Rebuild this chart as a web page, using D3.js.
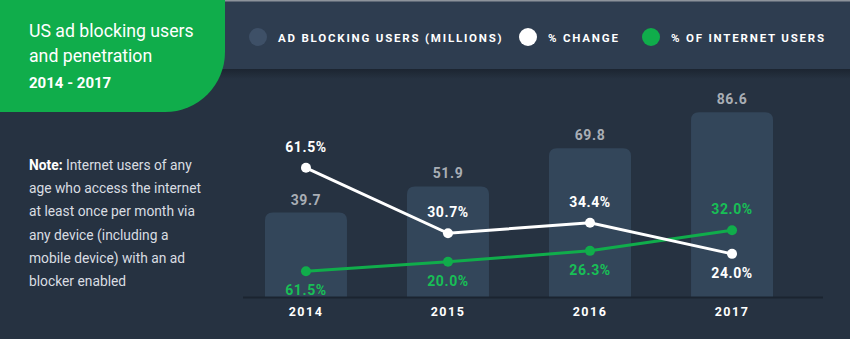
<!DOCTYPE html>
<html>
<head>
<meta charset="utf-8">
<script src="https://cdn.jsdelivr.net/npm/d3@7"></script>
<style>
  html, body { margin: 0; padding: 0; background: #263241; }
  svg { display: block; font-family: Roboto, "Noto Sans", sans-serif; }
</style>
</head>
<body>
<svg id="chart" width="850" height="339"></svg>
<script>
// ---- data ----
const years = ["2014", "2015", "2016", "2017"];
const adBlockUsers = [39.7, 51.9, 69.8, 86.6];           // millions (bars)
const adBlockLabels = ["39.7", "51.9", "69.8", "86.6"];
const pctChange = [60.6, 30.0, 34.9, 20.4];                // plotted heights
const pctChangeLabels = ["61.5%", "30.7%", "34.4%", "24.0%"];
const pctInternet = [12.3, 16.7, 21.8, 31.4];              // plotted heights
const pctInternetLabels = ["61.5%", "20.0%", "26.3%", "32.0%"];
const legendItems = ["AD BLOCKING USERS (MILLIONS)", "% CHANGE", "% OF INTERNET USERS"];
const noteLines = [
  ["Note:", " Internet users of any"],
  ["", "age who access the internet"],
  ["", "at least once per month via"],
  ["", "any device (including a"],
  ["", "mobile device) with an ad"],
  ["", "blocker enabled"]
];

const W = 850, H = 339;
const C = {
  bg: "#263241", header: "#2e3d50", green: "#10ad4b", bar: "#33465a",
  axis: "#1b2430", barLabel: "#a9aeb5", white: "#ffffff", greenText: "#18bf56",
  legendBar: "#3e5067"
};

const svg = d3.select("#chart");
const defs = svg.append("defs");
const grad = defs.append("linearGradient").attr("id", "shadow").attr("x1", 0).attr("y1", 0).attr("x2", 0).attr("y2", 1);
grad.append("stop").attr("offset", "0%").attr("stop-color", "#1c2531");
grad.append("stop").attr("offset", "100%").attr("stop-color", C.bg);

svg.append("rect").attr("width", W).attr("height", H).attr("fill", C.bg);

// header band
svg.append("rect").attr("x", 0).attr("y", 0).attr("width", W).attr("height", 69).attr("fill", C.header);
svg.append("rect").attr("x", 0).attr("y", 69).attr("width", W).attr("height", 10).attr("fill", "url(#shadow)");
svg.append("rect").attr("x", 0).attr("y", 0).attr("width", W).attr("height", 1.5).attr("fill", "#8d939b");

// green title box with rounded bottom-right corner
const r = 60, bw = 225, bh = 112;
svg.append("path")
  .attr("d", `M0,0 H${bw} V${bh - r} A${r},${r} 0 0 1 ${bw - r},${bh} H0 Z`)
  .attr("fill", C.green);

svg.append("text").attr("x", 29).attr("y", 37).attr("fill", "#fff").attr("font-size", 17.7).text("US ad blocking users");
svg.append("text").attr("x", 29).attr("y", 62).attr("fill", "#fff").attr("font-size", 17.7).text("and penetration");
svg.append("text").attr("x", 29).attr("y", 88).attr("fill", "#fff").attr("font-size", 15).attr("font-weight", 700).text("2014 - 2017");

// legend
const legendColors = [C.legendBar, C.white, C.green];
const legendX = [258, 528, 651];
const lg = svg.append("g");
legendItems.forEach((t, i) => {
  lg.append("circle").attr("cx", legendX[i]).attr("cy", 37).attr("r", 9).attr("fill", legendColors[i]);
  lg.append("text").attr("x", legendX[i] + 20).attr("y", 41.5)
    .attr("fill", "#fff").attr("font-size", 11.5).attr("font-weight", 700)
    .attr("letter-spacing", 1.8).text(t);
});

// note
const note = svg.append("g");
noteLines.forEach((ln, i) => {
  const t = note.append("text").attr("x", 29).attr("y", 170 + i * 23.2).attr("font-size", 13.8).attr("fill", "#d9dde2");
  if (ln[0]) t.append("tspan").attr("font-weight", 700).attr("fill", "#fff").text(ln[0]);
  t.append("tspan").text(ln[1]);
});

// scales
const x = d3.scaleBand().domain(years).range([235, 803]).paddingInner(0.4225).paddingOuter(0.211);
const y = d3.scaleLinear().domain([0, 100]).range([297.5, 83.5]);
const cx = d => x(d) + x.bandwidth() / 2;

// bars with rounded top corners
const rr = 8;
function barPath(i) {
  const x0 = x(years[i]), w = x.bandwidth(), y0 = y(adBlockUsers[i]), yb = y(0);
  return `M${x0},${yb} V${y0 + rr} Q${x0},${y0} ${x0 + rr},${y0} H${x0 + w - rr} Q${x0 + w},${y0} ${x0 + w},${y0 + rr} V${yb} Z`;
}
svg.append("g").selectAll("path").data(years).join("path")
  .attr("d", (d, i) => barPath(i)).attr("fill", C.bar);

// axis baseline
svg.append("line").attr("x1", 243).attr("x2", 823).attr("y1", y(0)).attr("y2", y(0))
  .attr("stroke", C.axis).attr("stroke-width", 2);

// x axis labels
const xAxis = d3.axisBottom(x).tickSize(0).tickPadding(0);
const ax = svg.append("g").attr("transform", `translate(0,${y(0) + 7})`).call(xAxis);
ax.select(".domain").remove();
ax.selectAll("text").attr("fill", "#fff").attr("font-size", 12.5).attr("font-weight", 700)
  .attr("letter-spacing", 1.5).attr("font-family", "Roboto, sans-serif").attr("dy", "0.95em");

// bar value labels
svg.append("g").selectAll("text").data(years).join("text")
  .attr("x", d => cx(d)).attr("y", (d, i) => y(adBlockUsers[i]) - 8)
  .attr("text-anchor", "middle").attr("fill", C.barLabel).attr("font-size", 14).attr("font-weight", 700)
  .attr("letter-spacing", 0.6)
  .text((d, i) => adBlockLabels[i]);

// lines
const line = d3.line().x(d => cx(d.year)).y(d => y(d.v));
const whiteData = years.map((yr, i) => ({ year: yr, v: pctChange[i], other: pctInternet[i], label: pctChangeLabels[i] }));
const greenData = years.map((yr, i) => ({ year: yr, v: pctInternet[i], other: pctChange[i], label: pctInternetLabels[i] }));

function drawSeries(data, color, textColor) {
  svg.append("path").datum(data).attr("d", line).attr("fill", "none").attr("stroke", color).attr("stroke-width", 3);
  svg.append("g").selectAll("circle").data(data).join("circle")
    .attr("cx", d => cx(d.year)).attr("cy", d => y(d.v)).attr("r", 5).attr("fill", color);
  svg.append("g").selectAll("text").data(data).join("text")
    .attr("x", d => cx(d.year))
    .attr("y", d => d.v >= d.other ? y(d.v) - 16 : y(d.v) + 24)
    .attr("text-anchor", "middle").attr("fill", textColor).attr("font-size", 14).attr("font-weight", 700)
    .attr("letter-spacing", 0.6)
    .text(d => d.label);
}
drawSeries(greenData, C.green, C.greenText);
drawSeries(whiteData, C.white, C.white);
</script>
</body>
</html>
